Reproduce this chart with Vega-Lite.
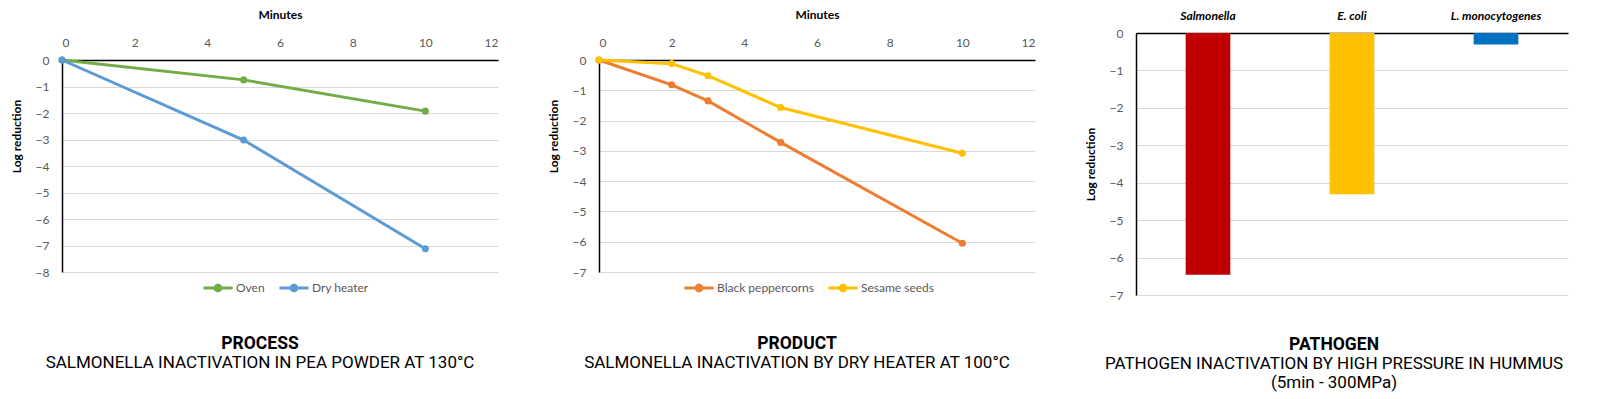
{
  "$schema": "https://vega.github.io/schema/vega-lite/v6.json",
  "background": "white",
  "padding": {"left": 10, "top": 8, "right": 5, "bottom": 5},
  "spacing": 49,
  "resolve": {"scale": {"color": "independent"}, "legend": {"color": "independent"}},
  "config": {
    "font": "Lato",
    "view": {"stroke": null},
    "axis": {"labelColor": "#595959", "labelFontSize": 12, "titleFontSize": 12, "titleFontWeight": "bold", "titleColor": "#000000", "grid": false, "ticks": false, "domainColor": "#000000", "domainWidth": 1.5, "gridColor": "#D9D9D9", "gridWidth": 1},
    "title": {"orient": "bottom", "font": "Roboto", "fontSize": 17.5, "fontWeight": "bold", "color": "#000000", "subtitleFont": "Roboto", "subtitleFontSize": 17, "subtitleColor": "#000000", "subtitleLineHeight": 19, "subtitlePadding": 2, "anchor": "middle", "offset": 41},
    "legend": {"orient": "none", "direction": "horizontal", "labelFontSize": 12, "labelColor": "#595959", "title": null, "symbolType": "M-1,-0.1H1V0.1H-1Z M-0.3,0A0.3,0.3 0 1,1 0.3,0A0.3,0.3 0 1,1 -0.3,0Z", "symbolSize": 850, "symbolStrokeWidth": 0, "columnPadding": 14, "labelOffset": 3}
  },
  "hconcat": [
    {
      "width": 436, "height": 239,
      "title": {"text": "PROCESS", "subtitle": "SALMONELLA INACTIVATION IN PEA POWDER AT 130°C", "dx": -20},
      "data": {"values": [
        {"series": "Oven", "minutes": 0, "log": 0},
        {"series": "Oven", "minutes": 5, "log": -0.75},
        {"series": "Oven", "minutes": 10, "log": -1.93},
        {"series": "Dry heater", "minutes": 0, "log": 0},
        {"series": "Dry heater", "minutes": 5, "log": -3.02},
        {"series": "Dry heater", "minutes": 10, "log": -7.12}
      ]},
      "mark": {"type": "line", "strokeWidth": 3, "point": {"filled": true, "size": 50}},
      "encoding": {
        "x": {"field": "minutes", "type": "quantitative", "scale": {"domain": [0, 12], "nice": false}, "axis": {"orient": "top", "offset": -27, "title": "Minutes", "values": [0, 2, 4, 6, 8, 10, 12], "labelPadding": 11, "titlePadding": 15}},
        "y": {"field": "log", "type": "quantitative", "scale": {"domain": [-8, 0], "nice": false, "range": [239, 27]}, "axis": {"title": "Log reduction", "titleY": 103, "grid": true, "values": [-8, -7, -6, -5, -4, -3, -2, -1, 0], "labelPadding": 13, "titlePadding": 12}},
        "color": {"field": "series", "type": "nominal", "scale": {"domain": ["Oven", "Dry heater"], "range": ["#70AD47", "#5B9BD5"]}, "legend": {"legendX": 141, "legendY": 240}}
      }
    },
    {
      "width": 436, "height": 239,
      "title": {"text": "PRODUCT", "subtitle": "SALMONELLA INACTIVATION BY DRY HEATER AT 100°C", "dx": -20},
      "data": {"values": [
        {"series": "Black peppercorns", "minutes": 0, "log": 0},
        {"series": "Black peppercorns", "minutes": 2, "log": -0.82},
        {"series": "Black peppercorns", "minutes": 3, "log": -1.35},
        {"series": "Black peppercorns", "minutes": 5, "log": -2.72},
        {"series": "Black peppercorns", "minutes": 10, "log": -6.05},
        {"series": "Sesame seeds", "minutes": 0, "log": 0},
        {"series": "Sesame seeds", "minutes": 2, "log": -0.12},
        {"series": "Sesame seeds", "minutes": 3, "log": -0.52},
        {"series": "Sesame seeds", "minutes": 5, "log": -1.57},
        {"series": "Sesame seeds", "minutes": 10, "log": -3.08}
      ]},
      "mark": {"type": "line", "strokeWidth": 3, "point": {"filled": true, "size": 50}},
      "encoding": {
        "x": {"field": "minutes", "type": "quantitative", "scale": {"domain": [0, 12], "nice": false}, "axis": {"orient": "top", "offset": -27, "title": "Minutes", "values": [0, 2, 4, 6, 8, 10, 12], "labelPadding": 11, "titlePadding": 15}},
        "y": {"field": "log", "type": "quantitative", "scale": {"domain": [-7, 0], "nice": false, "range": [239, 27]}, "axis": {"title": "Log reduction", "titleY": 103, "grid": true, "values": [-7, -6, -5, -4, -3, -2, -1, 0], "labelPadding": 13, "titlePadding": 12}},
        "color": {"field": "series", "type": "nominal", "scale": {"domain": ["Black peppercorns", "Sesame seeds"], "range": ["#ED7D31", "#FFC000"]}, "legend": {"legendX": 85, "legendY": 240}}
      }
    },
    {
      "width": 432, "height": 262,
      "title": {"text": "PATHOGEN", "subtitle": ["PATHOGEN INACTIVATION BY HIGH PRESSURE IN HUMMUS", "(5min - 300MPa)"], "offset": 35, "dx": -18},
      "data": {"values": [
        {"pathogen": "Salmonella", "log": -6.46},
        {"pathogen": "E. coli", "log": -4.31},
        {"pathogen": "L. monocytogenes", "log": -0.31}
      ]},
      "mark": {"type": "bar", "width": {"band": 0.31}},
      "encoding": {
        "x": {"field": "pathogen", "type": "nominal", "sort": ["Salmonella", "E. coli", "L. monocytogenes"], "scale": {"paddingInner": 0, "paddingOuter": 0}, "axis": {"orient": "top", "title": null, "labelAngle": 0, "labelFontWeight": "bold", "labelFontStyle": "italic", "labelColor": "#000000", "labelFontSize": 12, "labelPadding": 11}},
        "y": {"field": "log", "type": "quantitative", "scale": {"domain": [-7, 0], "nice": false}, "axis": {"title": "Log reduction", "grid": true, "values": [-7, -6, -5, -4, -3, -2, -1, 0], "labelPadding": 13, "titlePadding": 12}},
        "color": {"field": "pathogen", "type": "nominal", "scale": {"domain": ["Salmonella", "E. coli", "L. monocytogenes"], "range": ["#C00000", "#FFC000", "#0070C0"]}, "legend": null}
      }
    }
  ]
}
